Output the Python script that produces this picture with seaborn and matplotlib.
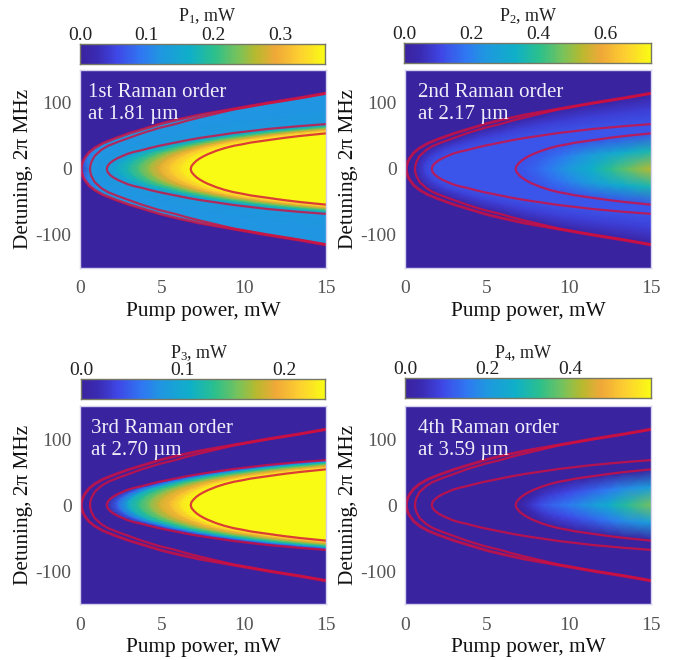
import numpy as np
import matplotlib
matplotlib.use("Agg")
import matplotlib.pyplot as plt
from matplotlib.colors import LinearSegmentedColormap
import seaborn as sns

# ==========================
# Threshold curves (pump mW, detuning MHz)
# ==========================

outer_p = [0.08, 0.1, 0.17, 0.3, 0.55, 0.9, 1.4, 2.1, 3, 3.8, 5, 6, 7.3, 9.35, 11.4, 13.4, 15]
outer_d = [0, 5, 11, 17, 25, 32, 39, 46, 54, 60, 69, 75, 82, 91, 100, 108, 115]
second_p = [0.61, 0.63, 0.7, 0.9, 1.3, 1.7, 2.3, 2.75, 3.76, 4.8, 5.8, 6.5, 7.3, 9.35, 11.4, 13.4, 15]
second_d = [0, 5, 11, 20, 29, 35, 41, 45, 54, 62, 68, 73, 78, 90, 99, 107, 114]
mid_p = [1.63, 1.68, 1.83, 2.05, 2.3, 2.9, 3.3, 3.76, 4.3, 4.8, 5.8, 6.5, 7.3, 9.35, 11.4, 13.4, 15]
mid_d = [0, 4.5, 9, 13, 16.5, 23, 26, 28.5, 32, 35, 40, 43.5, 47, 54.5, 60.5, 65, 68]
inner_p = [6.75, 6.8, 6.95, 7.1, 7.3, 7.55, 7.8, 8.05, 8.3, 8.8, 9.35, 9.9, 10.4, 11.4, 12.4, 13.4, 15]
inner_d = [0, 4.5, 9, 12.5, 16, 19.5, 22.5, 25, 27.5, 31.5, 35, 37.5, 40, 43.5, 47, 50, 54]

# ==========================
# Power values in mW on each band of the map, outside edge to centre line.
# A single number means the band looks the same all along the curve.
# ==========================

p1_outer = [0.035, 0.05, 0.07, 0.085, 0.1, 0.11, 0.12, 0.12, 0.12, 0.12, 0.12, 0.12, 0.12, 0.12, 0.12, 0.12, 0.12]
p1_bands = [p1_outer, 0.12, 0.12, 0.125, 0.15, 0.18, 0.215, 0.25, 0.285, 0.32, 0.345, 0.367, 0.367, 0.367]

p2_half = [0.13, 0.13, 0.13, 0.13, 0.13, 0.135, 0.14, 0.145, 0.15, 0.165, 0.18, 0.20, 0.22, 0.26, 0.29, 0.32, 0.36]
p2_centre = [0.13, 0.13, 0.13, 0.135, 0.14, 0.145, 0.15, 0.16, 0.17, 0.19, 0.22, 0.25, 0.28, 0.33, 0.39, 0.45, 0.53]
p2_bands = [0.0, 0.01, 0.09, 0.13, 0.13, 0.13, 0.13, 0.13, 0.13, 0.13, 0.13, 0.13, p2_half, p2_centre]

p3_bands = [0.0, 0.0, 0.0, 0.0, 0.05, 0.10, 0.13, 0.155, 0.18, 0.20, 0.225, 0.24, 0.24, 0.24]

p4_half = [0, 0, 0.005, 0.01, 0.02, 0.03, 0.04, 0.05, 0.06, 0.07, 0.08, 0.09, 0.10, 0.125, 0.15, 0.18, 0.21]
p4_centre = [0, 0.005, 0.015, 0.025, 0.04, 0.055, 0.07, 0.085, 0.10, 0.12, 0.135, 0.155, 0.17, 0.21, 0.26, 0.31, 0.38]
p4_bands = [0.0, 0.0, 0.0, 0.0, 0.0, 0.0, 0.0, 0.0, 0.0, 0.0, 0.0, 0.0, p4_half, p4_centre]

titles = ["P$_1$, mW", "P$_2$, mW", "P$_3$, mW", "P$_4$, mW"]
labels = ["1st Raman order\nat 1.81 µm", "2nd Raman order\nat 2.17 µm",
          "3rd Raman order\nat 2.70 µm", "4th Raman order\nat 3.59 µm"]
scale_max = [0.367, 0.735, 0.24, 0.595]
scale_ticks = [[0.0, 0.1, 0.2, 0.3], [0.0, 0.2, 0.4, 0.6], [0.0, 0.1, 0.2], [0.0, 0.2, 0.4]]
pump_ticks = [0, 5, 10, 15]
detuning_ticks = [-100, 0, 100]

# ==========================
# Layout in reference pixels
# ==========================

W, H = 681, 660
map_boxes = [(80, 70), (405, 70), (80, 406), (405, 406)]
bar_boxes = [(80, 44, 245), (404, 43, 247), (81, 379, 244), (405, 378, 246)]
title_xy = [(207, 16), (528, 16), (199, 353), (523, 353)]
note_x = [0.5, 0.8, 0.65, 0.8]
MAP_W, MAP_H, BAR_H = 246, 198, 20

sns.set_theme(style="white")
plt.rcParams["font.family"] = ["Liberation Serif", "DejaVu Serif"]
plt.rcParams["mathtext.fontset"] = "custom"
plt.rcParams["mathtext.rm"] = "Liberation Serif"
plt.rcParams["mathtext.default"] = "regular"

parula = LinearSegmentedColormap.from_list("parula_like", [
    (0.00, "#3a239f"), (0.07, "#3a2bb4"), (0.15, "#3f47e6"), (0.25, "#2f78f2"),
    (0.33, "#1f97e0"), (0.45, "#0fb0c8"), (0.55, "#2cc08c"), (0.65, "#7cc258"),
    (0.72, "#b8b92e"), (0.80, "#f0a838"), (0.90, "#fdd030"), (1.00, "#f9fb15"),
])


def box(x, y, w, h):
    return [x / W, 1 - (y + h) / H, w / W, h / H]


def band_mesh(bands):
    # rows run along the curves, so the colour edges follow them
    ou_p, ou_d = np.array(outer_p), np.array(outer_d, float)
    se_p, se_d = np.array(second_p), np.array(second_d, float)
    mi_p, mi_d = np.array(mid_p), np.array(mid_d, float)
    in_p, in_d = np.array(inner_p), np.array(inner_d, float)
    xs = [ou_p, se_p, (se_p + mi_p) / 2, mi_p]
    ys = [ou_d, se_d, (se_d + mi_d) / 2, mi_d]
    for f in (0.125, 0.25, 0.375, 0.5, 0.625, 0.75, 0.875):
        xs.append(mi_p + f * (in_p - mi_p))
        ys.append(mi_d + f * (in_d - mi_d))
    xs += [in_p, in_p, in_p]
    ys += [in_d, in_d / 2, in_d * 0]
    vals = [np.full(len(outer_p), b) if np.isscalar(b) else np.array(b) for b in bands]
    X = np.vstack(xs + xs[::-1])
    Y = np.vstack(ys + [-y for y in ys[::-1]])
    C = np.vstack(vals + vals[::-1])
    return X, Y, C


fig = plt.figure(figsize=(W / 100, H / 100), dpi=100)
curves = [(outer_p, outer_d, 2.0), (second_p, second_d, 1.6), (mid_p, mid_d, 1.6), (inner_p, inner_d, 1.6)]
all_bands = [p1_bands, p2_bands, p3_bands, p4_bands]

for i in range(4):
    x0, y0 = map_boxes[i]
    ax = fig.add_axes(box(x0, y0, MAP_W, MAP_H))
    ax.set_facecolor(parula(0.0))
    X, Y, C = band_mesh(all_bands[i])
    ax.pcolormesh(X, Y, C, shading="gouraud", cmap=parula, vmin=0, vmax=scale_max[i])

    for cp, cd, lw in curves:
        sns.lineplot(x=cp[::-1] + cp, y=[-d for d in cd[::-1]] + cd, sort=False, estimator=None,
                     color="#d40f3c", linewidth=lw, alpha=0.8, ax=ax)

    ax.set_xlim(0, 15)
    ax.set_ylim(-150, 150)
    ax.set_xticks(pump_ticks)
    ax.set_xticklabels([str(t) for t in pump_ticks])
    ax.set_yticks(detuning_ticks)
    ax.set_yticklabels([str(t) for t in detuning_ticks])
    ax.tick_params(axis="both", length=0, labelsize=14, labelcolor="#555555")
    ax.tick_params(axis="x", pad=9)
    ax.tick_params(axis="y", pad=6)
    ax.set_xlabel("Pump power, mW", fontsize=15.3, color="#111111")
    ax.xaxis.set_label_coords(0.5, -0.172)
    ax.set_ylabel("Detuning, 2π MHz", fontsize=15.3, color="#111111")
    ax.yaxis.set_label_coords(-47 / MAP_W, 0.5)
    for s in ax.spines.values():
        s.set_color("#d4d2ee")
        s.set_linewidth(1.0)
    ax.text(note_x[i], 99, labels[i], color="#eeeefa", fontsize=15, va="center", ha="left", linespacing=1.25)

    # colour scale as a one-row heatmap
    bx, by, bw = bar_boxes[i]
    cax = fig.add_axes(box(bx, by, bw, BAR_H))
    ramp = np.linspace(0, scale_max[i], 256).reshape(1, -1)
    sns.heatmap(ramp, ax=cax, cmap=parula, vmin=0, vmax=scale_max[i], cbar=False,
                xticklabels=False, yticklabels=False)
    cax.set_xticks([t / scale_max[i] * 256 for t in scale_ticks[i]])
    cax.set_xticklabels(["%.1f" % t for t in scale_ticks[i]])
    cax.tick_params(axis="x", top=True, bottom=False, labeltop=True, labelbottom=False,
                    length=0, pad=0, labelsize=14, labelcolor="#222222")
    for s in cax.spines.values():
        s.set_visible(True)
        s.set_color("#777766")
        s.set_linewidth(1.0)
    tx, ty = title_xy[i]
    fig.text(tx / W, 1 - ty / H, titles[i], fontsize=13, color="#222222", ha="center", va="center")

fig.savefig("out.png", dpi=100)
